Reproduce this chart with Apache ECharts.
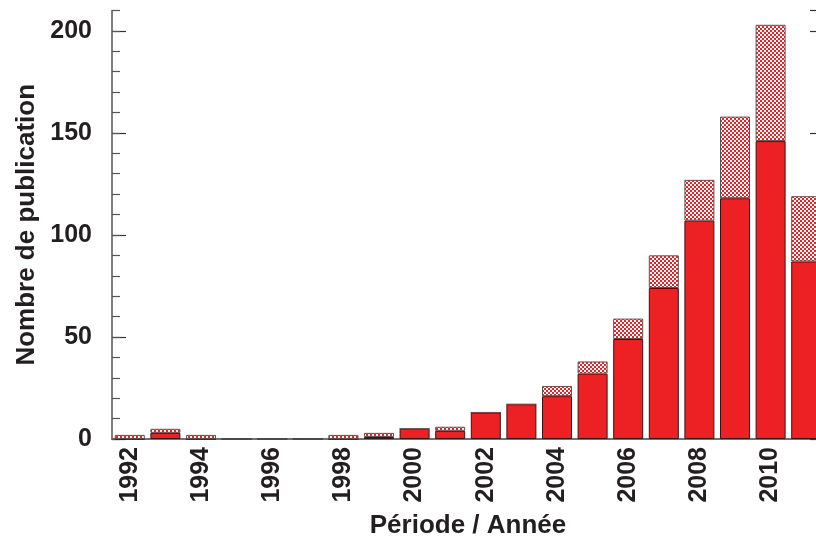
<!DOCTYPE html>
<html>
<head>
<meta charset="utf-8">
<script src="https://cdn.jsdelivr.net/npm/echarts@6/dist/echarts.min.js"></script>
<style>
  html, body { margin: 0; padding: 0; background: #fff; }
  #chart { width: 816px; height: 540px; }
</style>
</head>
<body>
<div id="chart"></div>
<script>
// publications par année : partie pleine + partie hachurée
const years = ['1992','1993','1994','1995','1996','1997','1998','1999','2000','2001',
               '2002','2003','2004','2005','2006','2007','2008','2009','2010','2011'];
const solidValues   = [0, 3, 0, 0, 0, 0, 0, 1, 5, 4, 13, 17, 21, 32, 49, 74, 107, 118, 146, 87];
const hatchedValues = [2, 2, 2, 0, 0, 0, 2, 2, 0, 2, 0, 0, 5, 6, 10, 16, 20, 40, 57, 32];
const yLabels = ['0', '50', '100', '150', '200'];

const RED = '#ed2024';
const FONT = 'Liberation Sans, Arial, sans-serif';
const TXT = '#231f20';

// motif en damier rouge/blanc
function hatchPattern() {
  const c = document.createElement('canvas');
  c.width = 4; c.height = 4;
  const ctx = c.getContext('2d');
  ctx.fillStyle = '#fff';
  ctx.fillRect(0, 0, 4, 4);
  ctx.fillStyle = RED;
  ctx.fillRect(0, 0, 2, 2);
  ctx.fillRect(2, 2, 2, 2);
  return c;
}

const chart = echarts.init(document.getElementById('chart'));
chart.setOption({
  animation: false,
  grid: { left: 112, top: 10.5, width: 712, height: 428.5, containLabel: false, outerBoundsMode: 'none' },
  xAxis: [
    {
      type: 'category',
      data: years,
      position: 'bottom',
      name: 'Période / Année',
      nameLocation: 'middle',
      nameGap: 74,
      nameTextStyle: { fontFamily: FONT, fontWeight: 'bold', fontSize: 26, color: TXT },
      axisLine: { lineStyle: { color: '#333', width: 1.5 } },
      axisTick: { inside: true, length: 14, interval: 1, lineStyle: { color: '#555', width: 1.2 } },
      axisLabel: {
        interval: 1, rotate: 90, margin: 8,
        fontFamily: FONT, fontWeight: 'bold', fontSize: 25, color: TXT
      }
    },
    {
      type: 'category',
      data: years,
      position: 'top',
      axisLine: { lineStyle: { color: '#777', width: 1.5 } },
      axisTick: { inside: true, length: 14, interval: 1, lineStyle: { color: '#666', width: 1.2 } },
      axisLabel: { show: false }
    }
  ],
  yAxis: [
    {
      type: 'value',
      min: 0, max: 210, interval: 50,
      name: 'Nombre de publication',
      nameLocation: 'middle',
      nameGap: 66,
      nameTextStyle: { fontFamily: FONT, fontWeight: 'bold', fontSize: 26, color: TXT },
      axisLine: { show: true, lineStyle: { color: '#555', width: 1.5 } },
      axisTick: { show: true, inside: true, length: 14, lineStyle: { color: '#333', width: 1.2 } },
      axisLabel: {
        showMaxLabel: false, margin: 20,
        formatter: v => yLabels.indexOf(String(v)) >= 0 ? String(v) : '',
        fontFamily: FONT, fontWeight: 'bold', fontSize: 25, color: TXT
      },
      splitLine: { show: false }
    },
    {
      type: 'value',
      min: 0, max: 210, interval: 10,
      position: 'left',
      axisLine: { show: false },
      axisTick: { show: true, inside: true, length: 8, lineStyle: { color: '#555', width: 1.2 } },
      axisLabel: { show: false },
      splitLine: { show: false }
    },
    {
      type: 'value',
      min: 0, max: 210, interval: 50,
      position: 'right',
      axisLine: { show: true, lineStyle: { color: '#555', width: 1.5 } },
      axisTick: { show: true, inside: true, length: 14, lineStyle: { color: '#333', width: 1.2 } },
      axisLabel: { show: false },
      splitLine: { show: false }
    }
  ],
  series: [
    {
      name: 'plein',
      type: 'bar',
      stack: 'total',
      barWidth: 30,
      data: solidValues,
      itemStyle: { color: RED, borderColor: '#3a1414', borderWidth: 1 }
    },
    {
      name: 'hachuré',
      type: 'bar',
      stack: 'total',
      barWidth: 30,
      data: hatchedValues,
      itemStyle: {
        color: { image: hatchPattern(), repeat: 'repeat' },
        borderColor: '#555', borderWidth: 1
      }
    }
  ]
});
</script>
</body>
</html>
